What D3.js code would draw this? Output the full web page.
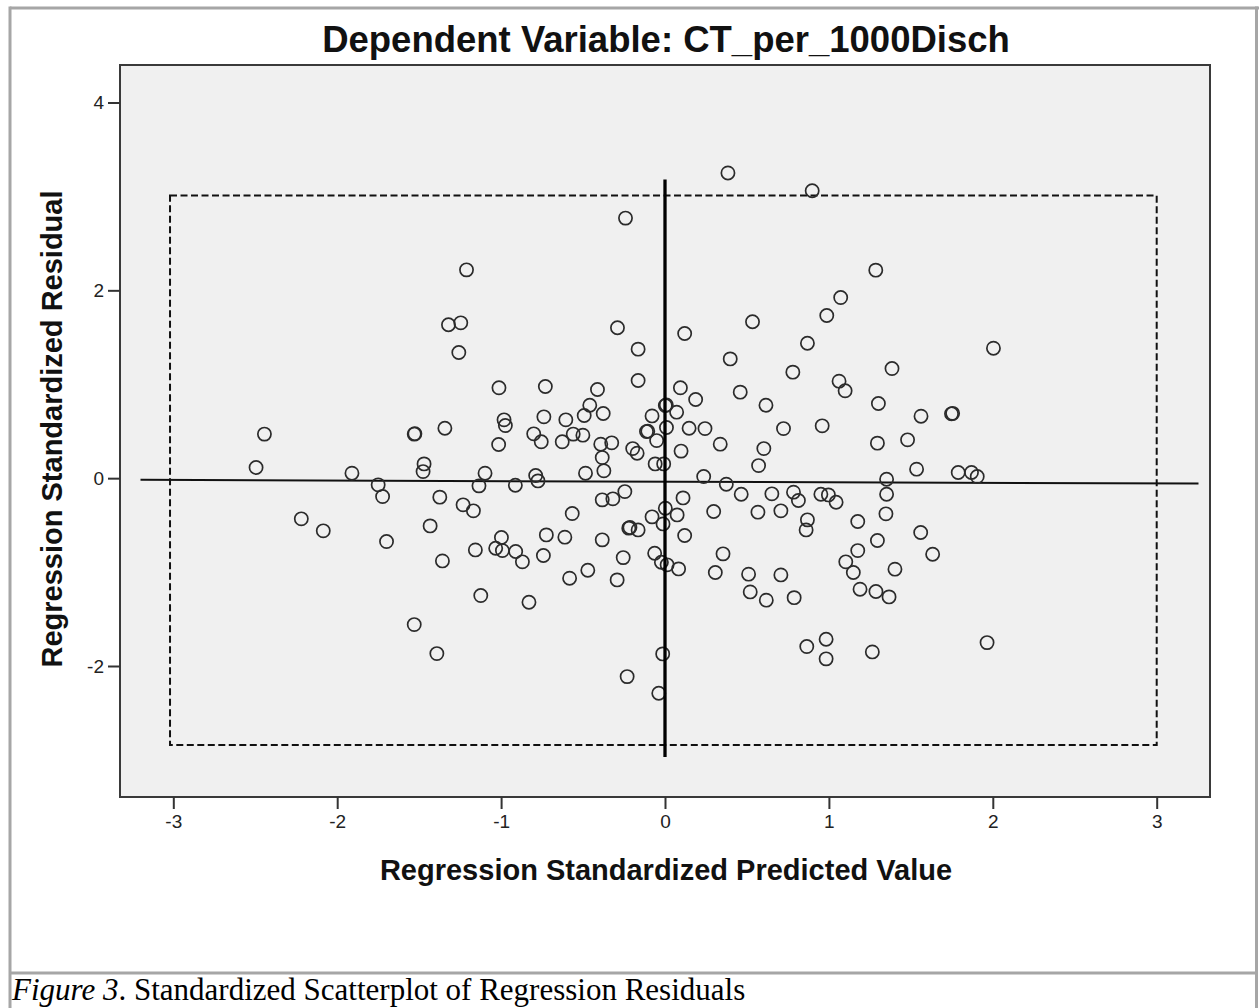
<!DOCTYPE html>
<html>
<head>
<meta charset="utf-8">
<script src="https://cdn.jsdelivr.net/npm/d3@7"></script>
<style>
  html, body { margin: 0; padding: 0; background: #ffffff; }
  svg { display: block; }
</style>
</head>
<body>
<svg id="chart" width="1259" height="1008"></svg>
<script>
// ---------- data ----------
const chartTitle = "Dependent Variable: CT_per_1000Disch";
const xTitle = "Regression Standardized Predicted Value";
const yTitle = "Regression Standardized Residual";
const xTicks = [-3, -2, -1, 0, 1, 2, 3];
const yTicks = [-2, 0, 2, 4];

// predicted values (x) and residuals (y)
const predicted = [
  0.384, 0.898, 1.286, 1.072, 0.987, 0.534, 0.869, 2.004, 0.398, 1.385,
  0.780, 1.062, 1.099, 0.459, 0.616, 1.302, 1.562, 1.748, 1.755, 0.244,
  0.723, 0.959, 0.337, 0.603, 1.296, 1.480,
  -0.241, -1.211, -1.321, -1.246, -1.258, -0.290, -0.164, 0.120, -0.164, -1.013,
  -0.730, -0.412, 0.094, 0.187, -0.459, -0.377, -0.493, -0.605, -0.739, -0.982,
  -0.974, 0.002, 0.008, 0.071, -0.079, -1.530, -1.526, -1.343, -0.801, -0.755,
  -1.015, -0.627, -0.560, -0.501, -0.392, -0.325, -0.113, -0.105, -0.051, 0.009,
  0.147, 0.098, -0.197, -0.170,
  -1.470, -1.476, -1.098, -1.135, -1.374, -1.232, -1.169, -1.433, -0.913, -0.789,
  -0.775, -0.485, -0.373, -0.383, -0.060, -0.008, -0.245, -0.383, -0.318, -0.566,
  0.002, 0.074, -0.079, -0.012, -0.221, -0.214, -0.164, -0.724, -0.611, -0.383,
  -0.998, 0.110,
  -2.444, -2.495, -1.910, -1.750, -1.723, -2.219, -2.085, -1.699, -1.530,
  -1.358, -1.157, -1.033, -0.992, -0.911, -0.870, -0.742, 0.120, 0.307, -0.255,
  -0.063, -0.022, 0.013, 0.083, -0.471, -0.582, -0.292, -1.124, -0.830, -1.392,
  -0.014, -0.231, -0.038,
  0.571, 0.236, 0.374, 0.465, 0.652, 0.784, 0.814, 0.951, 0.997, 1.044,
  1.352, 1.352, 1.535, 1.789, 1.870, 1.905, 0.297, 0.567, 0.707, 0.869,
  0.861, 1.176, 1.348, 1.560, 1.633, 1.296, 1.176, 1.103, 1.149, 1.403,
  1.190, 1.287, 1.367, 0.354, 0.510, 0.707, 0.520, 0.618, 0.788, 0.865,
  0.983, 0.983, 1.265, 1.965
];
const residual = [
  3.250, 3.060, 2.215, 1.923, 1.732, 1.665, 1.437, 1.384, 1.270, 1.167,
  1.129, 1.033, 0.930, 0.916, 0.777, 0.795, 0.660, 0.685, 0.690, 0.528,
  0.528, 0.557, 0.362, 0.315, 0.373, 0.408,
  2.769, 2.218, 1.633, 1.654, 1.338, 1.601, 1.374, 1.540, 1.040, 0.962,
  0.976, 0.944, 0.962, 0.837, 0.777, 0.688, 0.667, 0.621, 0.653, 0.621,
  0.560, 0.773, 0.780, 0.703, 0.663, 0.469, 0.474, 0.532, 0.472, 0.387,
  0.358, 0.387, 0.469, 0.458, 0.362, 0.376, 0.496, 0.500, 0.400, 0.539,
  0.532, 0.288, 0.315, 0.266,
  0.152, 0.070, 0.053, -0.082, -0.202, -0.284, -0.348, -0.508, -0.075, 0.028,
  -0.029, 0.053, 0.078, 0.219, 0.152, 0.152, -0.143, -0.231, -0.220, -0.377,
  -0.320, -0.391, -0.412, -0.487, -0.532, -0.525, -0.551, -0.604, -0.628, -0.657,
  -0.632, -0.210,
  0.469, 0.113, 0.053, -0.071, -0.196, -0.433, -0.561, -0.675, -1.559,
  -0.881, -0.764, -0.746, -0.771, -0.781, -0.891, -0.824, -0.611, -1.005, -0.846,
  -0.799, -0.895, -0.923, -0.966, -0.980, -1.065, -1.083, -1.250, -1.321, -1.868,
  -1.871, -2.113, -2.290,
  0.134, 0.017, -0.064, -0.171, -0.167, -0.149, -0.238, -0.171, -0.178, -0.256,
  -0.011, -0.171, 0.096, 0.060, 0.060, 0.017, -0.355, -0.362, -0.348, -0.444,
  -0.551, -0.462, -0.380, -0.579, -0.810, -0.664, -0.771, -0.891, -1.005, -0.969,
  -1.182, -1.207, -1.264, -0.806, -1.022, -1.030, -1.211, -1.299, -1.272, -1.793,
  -1.715, -1.924, -1.850, -1.751
];

// reference lines (data units)
const fitLineX = [-3.20, 3.255];
const fitLineY = [-0.018, -0.057];
const vertLineX = [0, 0];
const vertLineY = [3.18, -2.97];
const boxX = [-3.02, 3.0];
const boxY = [-2.84, 3.01];

// ---------- layout ----------
const svg = d3.select("#chart");
const frame = { left: 120, right: 1210, top: 65, bottom: 797 };

const x = d3.scaleLinear().domain([-3, 3]).range([173.3, 1156.7]);
const y = d3.scaleLinear().domain([-2, 4]).range([666, 102.5]);

// outer figure border
const border = "#a6a6a6";
svg.append("line").attr("x1", 10).attr("x2", 1259).attr("y1", 8).attr("y2", 8)
  .attr("stroke", border).attr("stroke-width", 3);
svg.append("line").attr("x1", 10).attr("x2", 10).attr("y1", 6.5).attr("y2", 1008)
  .attr("stroke", border).attr("stroke-width", 3);
svg.append("line").attr("x1", 1256.5).attr("x2", 1256.5).attr("y1", 6.5).attr("y2", 1008)
  .attr("stroke", border).attr("stroke-width", 3);
svg.append("line").attr("x1", 10).attr("x2", 1258).attr("y1", 973).attr("y2", 973)
  .attr("stroke", border).attr("stroke-width", 3);

// plot background + frame
svg.append("rect")
  .attr("x", frame.left).attr("y", frame.top)
  .attr("width", frame.right - frame.left).attr("height", frame.bottom - frame.top)
  .attr("fill", "#f0f0f0").attr("stroke", "#3a3a3a").attr("stroke-width", 2);

// title
svg.append("text")
  .attr("x", 666).attr("y", 52)
  .attr("text-anchor", "middle")
  .attr("font-family", "Liberation Sans, Arial, sans-serif")
  .attr("font-size", 36.5).attr("font-weight", "bold")
  .attr("fill", "#111")
  .text(chartTitle);

// axes
const fmt = d => String(d);
const xAxis = d3.axisBottom(x).tickValues(xTicks).tickSize(12).tickPadding(6).tickFormat(fmt);
const gx = svg.append("g").attr("transform", `translate(0,${frame.bottom})`).call(xAxis);
gx.select(".domain").remove();
gx.selectAll("line").attr("stroke", "#333").attr("stroke-width", 2);
gx.selectAll("text").attr("font-family", "Liberation Sans, Arial, sans-serif")
  .attr("font-size", 19).attr("fill", "#222");

const yAxis = d3.axisLeft(y).tickValues(yTicks).tickSize(12).tickPadding(4).tickFormat(fmt);
const gy = svg.append("g").attr("transform", `translate(${frame.left},0)`).call(yAxis);
gy.select(".domain").remove();
gy.selectAll("line").attr("stroke", "#333").attr("stroke-width", 2);
gy.selectAll("text").attr("font-family", "Liberation Sans, Arial, sans-serif")
  .attr("font-size", 19).attr("fill", "#222");

// axis titles
svg.append("text")
  .attr("x", 666).attr("y", 880)
  .attr("text-anchor", "middle")
  .attr("font-family", "Liberation Sans, Arial, sans-serif")
  .attr("font-size", 29).attr("font-weight", "bold").attr("fill", "#111")
  .text(xTitle);
svg.append("text")
  .attr("transform", "translate(62,429) rotate(-90)")
  .attr("text-anchor", "middle")
  .attr("font-family", "Liberation Sans, Arial, sans-serif")
  .attr("font-size", 29).attr("font-weight", "bold").attr("fill", "#111")
  .text(yTitle);

// dashed box
svg.append("rect")
  .attr("x", x(boxX[0])).attr("y", y(boxY[1]))
  .attr("width", x(boxX[1]) - x(boxX[0]))
  .attr("height", y(boxY[0]) - y(boxY[1]))
  .attr("fill", "none").attr("stroke", "#111").attr("stroke-width", 2)
  .attr("stroke-dasharray", "7,3.5");

// horizontal fit line
svg.append("line")
  .attr("x1", x(fitLineX[0])).attr("y1", y(fitLineY[0]))
  .attr("x2", x(fitLineX[1])).attr("y2", y(fitLineY[1]))
  .attr("stroke", "#111").attr("stroke-width", 2);

// points
const pts = predicted.map((v, i) => ({ px: v, py: residual[i] }));
svg.append("g").selectAll("circle").data(pts).join("circle")
  .attr("cx", d => x(d.px)).attr("cy", d => y(d.py))
  .attr("r", 6.6)
  .attr("fill", "none").attr("stroke", "#2b2b2b").attr("stroke-width", 1.7);

// vertical line at x=0
svg.append("line")
  .attr("x1", x(vertLineX[0])).attr("y1", y(vertLineY[0]))
  .attr("x2", x(vertLineX[1])).attr("y2", y(vertLineY[1]))
  .attr("stroke", "#000").attr("stroke-width", 3.3);

// caption
const cap = svg.append("text")
  .attr("x", 12).attr("y", 1000)
  .attr("font-family", "Liberation Serif, Times New Roman, serif")
  .attr("font-size", 31).attr("fill", "#000");
cap.append("tspan").attr("font-style", "italic").text("Figure 3");
cap.append("tspan").text(". Standardized Scatterplot of Regression Residuals");
</script>
</body>
</html>
